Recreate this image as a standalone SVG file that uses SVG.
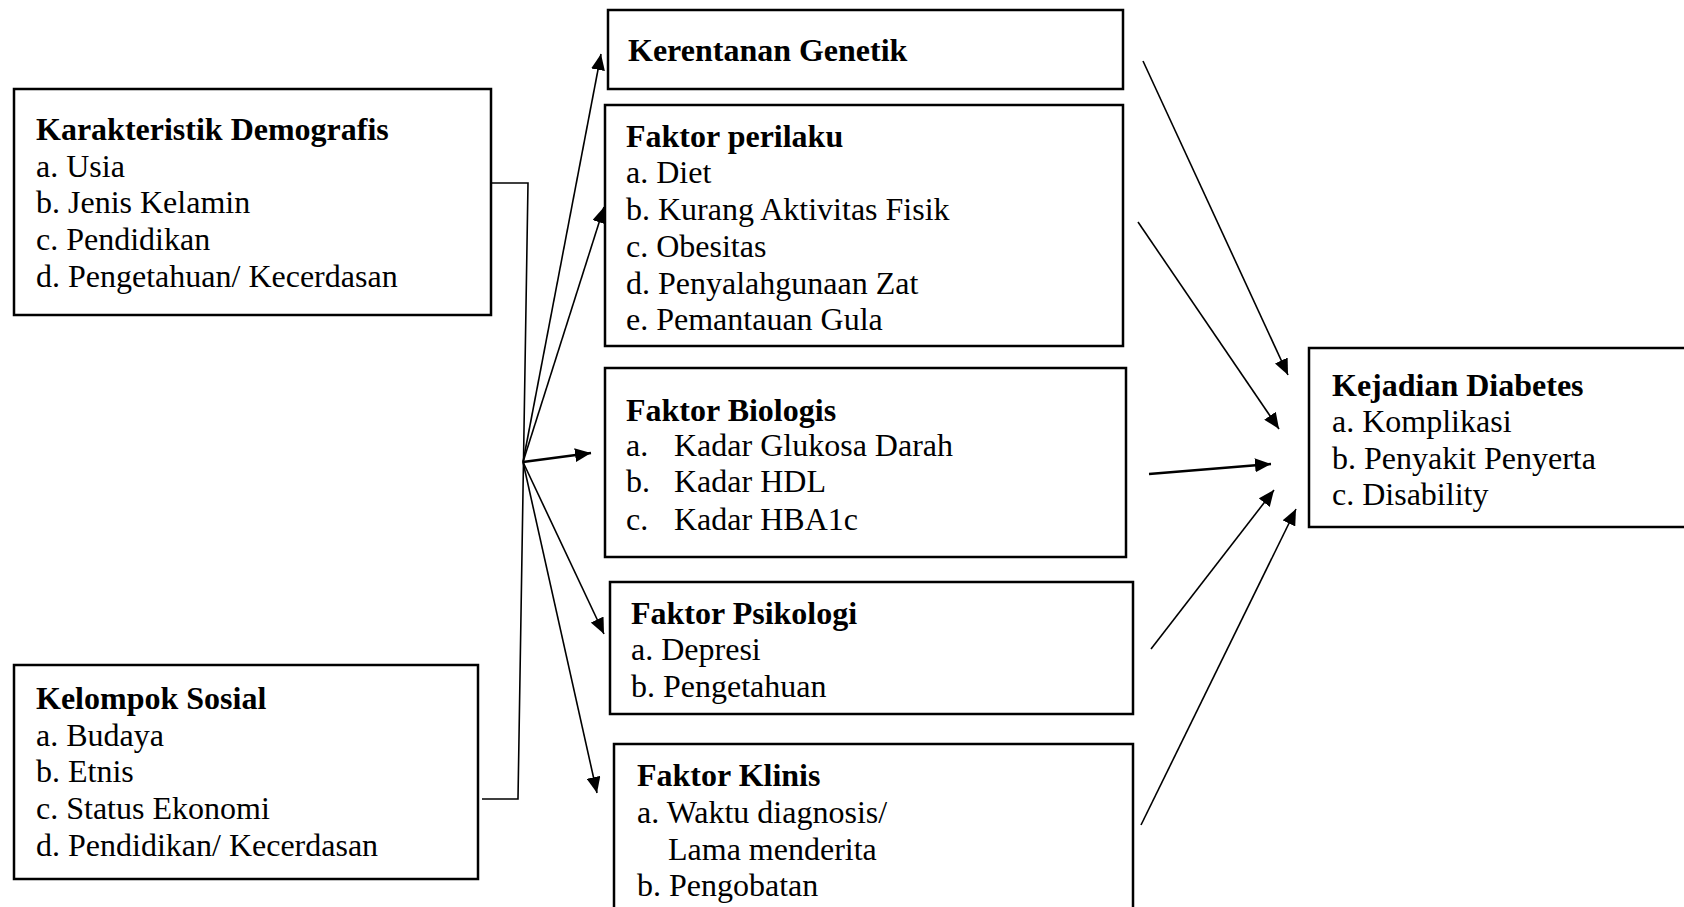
<svg xmlns="http://www.w3.org/2000/svg" width="1684" height="907" viewBox="0 0 1684 907">
<defs>
<style>
.box{fill:#fff;stroke:#000;stroke-width:2.5}
text{font-family:"Liberation Serif","Times New Roman",serif;font-size:32px;fill:#000}
.t{font-weight:bold}
.ln{stroke:#000;stroke-width:1.6;fill:none}
.lt{stroke:#000;stroke-width:2.6;fill:none}
</style>
<marker id="ah" markerUnits="userSpaceOnUse" markerWidth="18" markerHeight="14" refX="16" refY="7" orient="auto">
<path d="M0,0 L16,7 L0,14 Z" fill="#000"/>
</marker>
</defs>
<rect width="1684" height="907" fill="#fff"/>

<g id="karakteristik">
<rect class="box" x="14" y="89" width="477" height="226"/>
<text x="36" y="140" class="t">Karakteristik Demografis</text>
<text x="36" y="177">a. Usia</text>
<text x="36" y="213">b. Jenis Kelamin</text>
<text x="36" y="250">c. Pendidikan</text>
<text x="36" y="287">d. Pengetahuan/ Kecerdasan</text>
</g>

<g id="kelompok">
<rect class="box" x="14" y="665" width="464" height="214"/>
<text x="36" y="709" class="t">Kelompok Sosial</text>
<text x="36" y="746">a. Budaya</text>
<text x="36" y="782">b. Etnis</text>
<text x="36" y="819">c. Status Ekonomi</text>
<text x="36" y="856">d. Pendidikan/ Kecerdasan</text>
</g>

<g id="kerentanan">
<rect class="box" x="608" y="10" width="515" height="79"/>
<text x="628" y="61" class="t">Kerentanan Genetik</text>
</g>

<g id="perilaku">
<rect class="box" x="605" y="105" width="518" height="241"/>
<text x="626" y="147" class="t">Faktor perilaku</text>
<text x="626" y="183">a. Diet</text>
<text x="626" y="220">b. Kurang Aktivitas Fisik</text>
<text x="626" y="257">c. Obesitas</text>
<text x="626" y="294">d. Penyalahgunaan Zat</text>
<text x="626" y="330">e. Pemantauan Gula</text>
</g>

<g id="biologis">
<rect class="box" x="605" y="368" width="521" height="189"/>
<text x="626" y="421" class="t">Faktor Biologis</text>
<text x="626" y="456">a.</text><text x="674" y="456">Kadar Glukosa Darah</text>
<text x="626" y="492">b.</text><text x="674" y="492">Kadar HDL</text>
<text x="626" y="530">c.</text><text x="674" y="530">Kadar HBA1c</text>
</g>

<g id="psikologi">
<rect class="box" x="610" y="582" width="523" height="132"/>
<text x="631" y="624" class="t">Faktor Psikologi</text>
<text x="631" y="660">a. Depresi</text>
<text x="631" y="697">b. Pengetahuan</text>
</g>

<g id="klinis">
<rect class="box" x="614" y="744" width="519" height="180"/>
<text x="637" y="786" class="t">Faktor Klinis</text>
<text x="637" y="823">a. Waktu diagnosis/</text>
<text x="668" y="860">Lama menderita</text>
<text x="637" y="896">b. Pengobatan</text>
</g>

<g id="kejadian">
<rect class="box" x="1309" y="348" width="400" height="179"/>
<text x="1332" y="396" class="t">Kejadian Diabetes</text>
<text x="1332" y="432">a. Komplikasi</text>
<text x="1332" y="469">b. Penyakit Penyerta</text>
<text x="1332" y="505">c. Disability</text>
</g>

<g id="connectors">
<polyline class="ln" stroke-width="2" points="491,183 528,183 518,799 482,799"/>
<line class="ln" x1="523" y1="462" x2="601" y2="54" marker-end="url(#ah)"/>
<line class="ln" x1="523" y1="462" x2="604" y2="207" marker-end="url(#ah)"/>
<line class="lt" x1="523" y1="462" x2="591" y2="453" marker-end="url(#ah)"/>
<line class="ln" x1="523" y1="462" x2="604" y2="634" marker-end="url(#ah)"/>
<line class="ln" x1="523" y1="462" x2="597" y2="793" marker-end="url(#ah)"/>
<line class="ln" x1="1143" y1="61" x2="1288" y2="375" marker-end="url(#ah)"/>
<line class="ln" x1="1138" y1="222" x2="1279" y2="429" marker-end="url(#ah)"/>
<line class="lt" x1="1149" y1="474" x2="1271" y2="464" marker-end="url(#ah)"/>
<line class="ln" x1="1151" y1="649" x2="1274" y2="490" marker-end="url(#ah)"/>
<line class="ln" x1="1141" y1="825" x2="1296" y2="509" marker-end="url(#ah)"/>
</g>
</svg>
